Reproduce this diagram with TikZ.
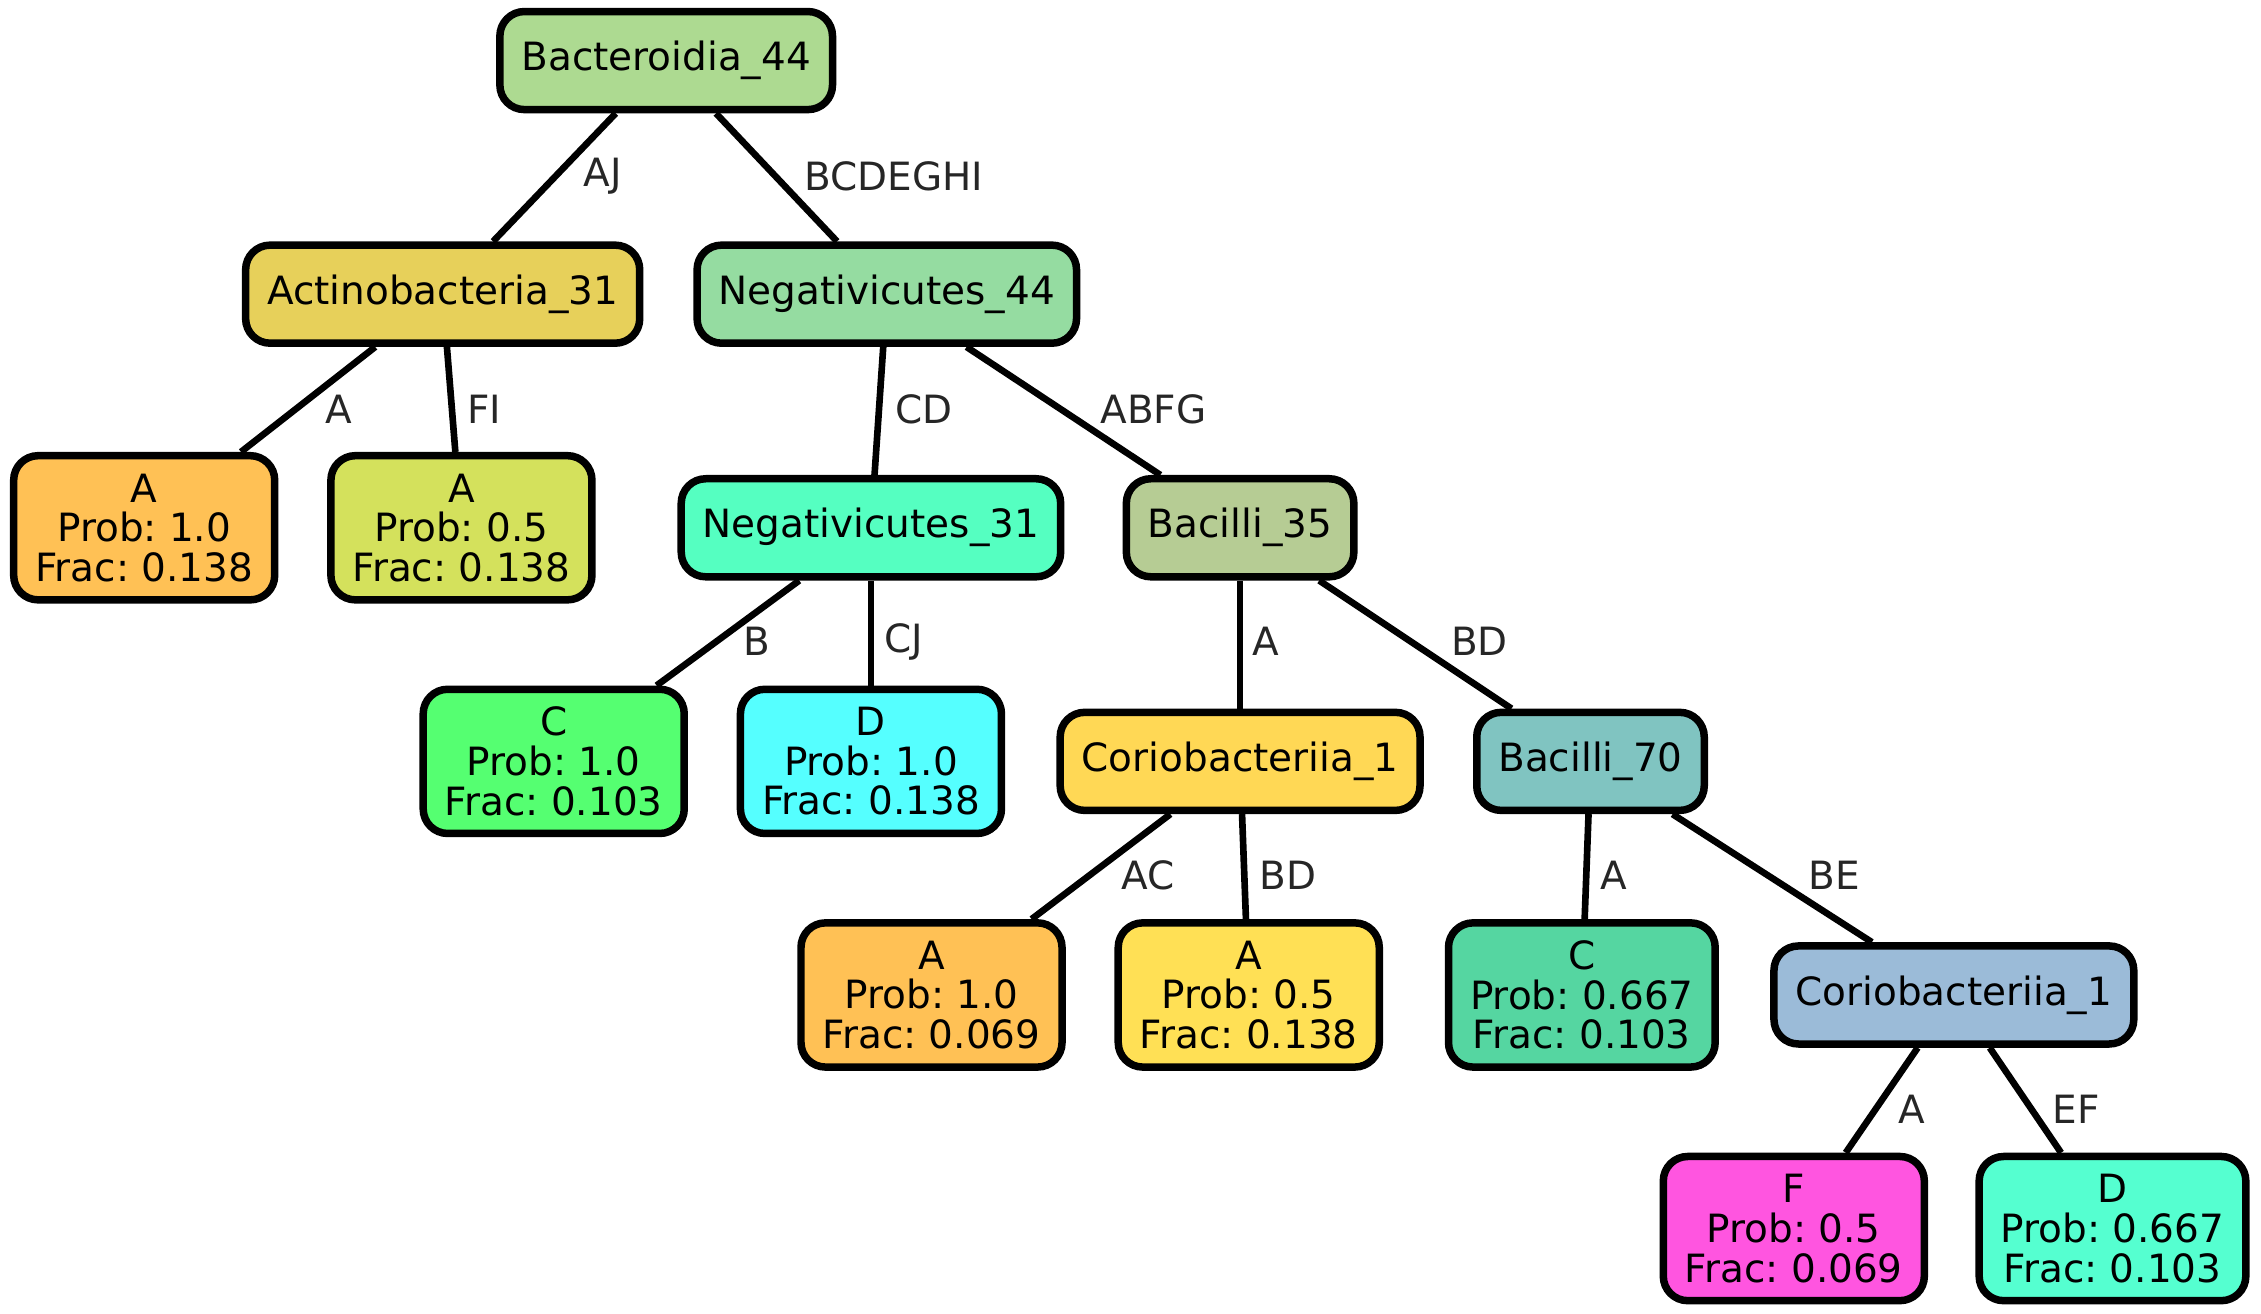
\documentclass[tikz,border=0pt]{standalone}
\usepackage{fontspec}
\setmainfont{DejaVu Sans}
\usepackage{xcolor}
\usepackage{tikz}
\frenchspacing

% node fills
\definecolor{cBac}{HTML}{ADDA91}
\definecolor{cAct}{HTML}{E7D05A}
\definecolor{cNegA}{HTML}{95DCA1}
\definecolor{cNegB}{HTML}{55FFC1}
\definecolor{cBacB}{HTML}{B6CC94}
\definecolor{cBacC}{HTML}{80C4C1}
\definecolor{cCorA}{HTML}{FFD855}
\definecolor{cCorB}{HTML}{9BBBD8}
\definecolor{cOrange}{HTML}{FFC155}
\definecolor{cLime}{HTML}{D4E15C}
\definecolor{cGreen}{HTML}{55FF71}
\definecolor{cCyan}{HTML}{55FFFF}
\definecolor{cYellow}{HTML}{FFE055}
\definecolor{cSea}{HTML}{55D6A1}
\definecolor{cPink}{HTML}{FF55E0}
\definecolor{cAqua}{HTML}{55FFD0}
\definecolor{labgray}{HTML}{262626}

\newcommand{\treefont}{\fontsize{27}{27.5}\selectfont}

\tikzset{
  splitnode/.style={draw=black, line width=5.2pt, rounded corners=17pt,
    minimum height=68pt, inner xsep=15pt, font=\treefont},
  leafnode/.style={splitnode, minimum height=100pt, align=center},
  branch/.style={line width=4.6pt},
  elab/.style={text=labgray, font=\treefont}
}

\begin{document}
\begin{tikzpicture}[x=1pt,y=-1pt]
    \useasboundingbox (0,0) rectangle (1568,911);

    % Split nodes
    \node[splitnode, fill=cBac]  (bac44) at (462,42)  {Bacteroidia\_44};
    \node[splitnode, fill=cAct]  (act31) at (307,204) {Actinobacteria\_31};
    \node[splitnode, fill=cNegA] (neg44) at (615,204) {Negativicutes\_44};
    \node[splitnode, fill=cNegB] (neg31) at (604,366) {Negativicutes\_31};
    \node[splitnode, fill=cBacB] (bac35) at (860,366) {Bacilli\_35};
    \node[splitnode, fill=cCorA] (cor1)  at (860,528) {Coriobacteriia\_1};
    \node[splitnode, fill=cBacC] (bac70) at (1103,528) {Bacilli\_70};
    \node[splitnode, fill=cCorB] (cor1b) at (1355,690) {Coriobacteriia\_1};

    % Leaves
    \node[leafnode, fill=cOrange] (leafAa) at (100,366)  {A\\Prob: 1.0\\Frac: 0.138};
    \node[leafnode, fill=cLime]   (leafAb) at (320,366)  {A\\Prob: 0.5\\Frac: 0.138};
    \node[leafnode, fill=cGreen]  (leafC)  at (384,528)  {C\\Prob: 1.0\\Frac: 0.103};
    \node[leafnode, fill=cCyan]   (leafD)  at (604,528)  {D\\Prob: 1.0\\Frac: 0.138};
    \node[leafnode, fill=cOrange] (leafAc) at (646,690)  {A\\Prob: 1.0\\Frac: 0.069};
    \node[leafnode, fill=cYellow] (leafAd) at (866,690)  {A\\Prob: 0.5\\Frac: 0.138};
    \node[leafnode, fill=cSea]    (leafCb) at (1097,690) {C\\Prob: 0.667\\Frac: 0.103};
    \node[leafnode, fill=cPink]   (leafF)  at (1244,852) {F\\Prob: 0.5\\Frac: 0.069};
    \node[leafnode, fill=cAqua]   (leafDb) at (1465,852) {D\\Prob: 0.667\\Frac: 0.103};

    % Branches
    \draw[branch] (bac44) -- (act31);
    \draw[branch] (bac44) -- (neg44);
    \draw[branch] (act31) -- (leafAa);
    \draw[branch] (act31) -- (leafAb);
    \draw[branch] (neg44) -- (neg31);
    \draw[branch] (neg44) -- (bac35);
    \draw[branch] (neg31) -- (leafC);
    \draw[branch] (neg31) -- (leafD);
    \draw[branch] (bac35) -- (cor1);
    \draw[branch] (bac35) -- (bac70);
    \draw[branch] (cor1) -- (leafAc);
    \draw[branch] (cor1) -- (leafAd);
    \draw[branch] (bac70) -- (leafCb);
    \draw[branch] (bac70) -- (cor1b);
    \draw[branch] (cor1b) -- (leafF);
    \draw[branch] (cor1b) -- (leafDb);

    % Branch labels
    \node[elab] (lAJ)      at (418,122)  {AJ};
    \node[elab] (lBCDEGHI) at (620,122)  {BCDEGHI};
    \node[elab] (lA1)      at (235,284)  {A};
    \node[elab] (lFI)      at (336,284)  {FI};
    \node[elab] (lCD)      at (641,284)  {CD};
    \node[elab] (lABFG)    at (800,284)  {ABFG};
    \node[elab] (lB)       at (525,445)  {B};
    \node[elab] (lCJ)      at (627,445)  {CJ};
    \node[elab] (lA2)      at (878,445)  {A};
    \node[elab] (lBD1)     at (1026,445) {BD};
    \node[elab] (lAC)      at (796,607)  {AC};
    \node[elab] (lBD2)     at (893,607)  {BD};
    \node[elab] (lA3)      at (1119,607) {A};
    \node[elab] (lBE)      at (1272,607) {BE};
    \node[elab] (lA4)      at (1326,769) {A};
    \node[elab] (lEF)      at (1440,769) {EF};
\end{tikzpicture}
\end{document}
